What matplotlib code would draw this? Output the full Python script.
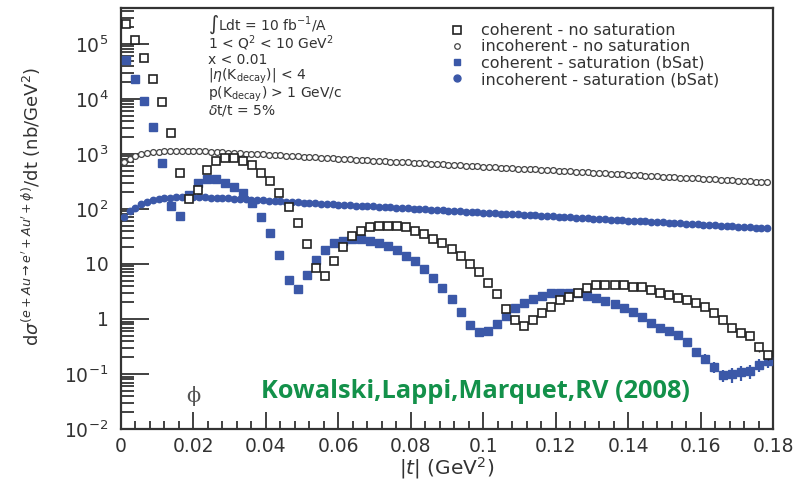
import numpy as np
import matplotlib
matplotlib.use("Agg")
import matplotlib.pyplot as plt
from matplotlib.lines import Line2D
from matplotlib.ticker import LogLocator, FixedLocator, MultipleLocator, NullFormatter

plt.rcParams['font.family'] = ['DejaVu Sans']
plt.rcParams['mathtext.fontset'] = 'dejavusans'

# |t| bins: coherent curves every 0.0025, incoherent every 0.0016 GeV^2
t_coh = 0.00125 + 0.0025 * np.arange(72)
t_inc = 0.0008 + 0.0016 * np.arange(112)

# coherent, no saturation (nb/GeV^2)
coh_nosat = [2.28e5, 1.18e5, 5.5e4, 2.31e4, 8.7e3, 2.44e3, 446, 150, 221, 512,
             736, 846, 846, 755, 624, 457, 319, 198, 110, 55,
             22.8, 8.4, 6.05, 11.5, 20.1, 32.3, 39.8, 46.5, 49.7, 49.7,
             49.7, 46.5, 40.3, 35.1, 28.5, 23.8, 18.7, 14.2, 9.9, 7.25,
             4.57, 2.81, 1.54, 0.97, 0.746, 0.96, 1.30, 1.68, 2.21, 2.54,
             3.0, 3.61, 4.15, 4.15, 4.15, 4.15, 3.77, 3.77, 3.37, 3.0,
             2.73, 2.44, 2.21, 1.93, 1.63, 1.30, 0.96, 0.68, 0.56, 0.49,
             0.31, 0.22]

# coherent, saturation (bSat)
coh_sat = [5.1e4, 2.31e4, 9.2e3, 3.06e3, 685, 111, 74.6, 180, 301, 355,
           347, 301, 254, 193, 127, 70.6, 36.1, 14.8, 5.1, 3.47,
           6.4, 11.8, 18.0, 23.8, 26.5, 28.5, 28.5, 26.5, 24.4, 21.5,
           18.0, 14.2, 11.3, 8.1, 5.6, 3.7, 2.28, 1.32, 0.77, 0.57,
           0.61, 0.81, 1.13, 1.57, 1.93, 2.31, 2.65, 2.93, 3.0, 3.0,
           2.93, 2.65, 2.38, 2.12, 1.87, 1.60, 1.36, 1.10, 0.86, 0.68,
           0.61, 0.51, 0.38, 0.25, 0.19, 0.136, 0.096, 0.099, 0.107, 0.115,
           0.146, 0.172]

# relative errors on the last bins
coh_nosat_err_tail = [0.06, 0.06, 0.08, 0.08, 0.10, 0.10, 0.12, 0.12, 0.14, 0.15, 0.18, 0.20]
coh_sat_err_tail = [0.10, 0.10, 0.12, 0.12, 0.14, 0.15, 0.16, 0.16, 0.18, 0.18,
                    0.20, 0.22, 0.25, 0.30, 0.30, 0.28, 0.26, 0.24]

# incoherent, no saturation
inc_nosat = [716, 818, 920, 980, 1026, 1065, 1096, 1125, 1139, 1148,
             1148, 1148, 1143, 1134, 1119, 1104, 1089, 1075, 1060, 1046,
             1032, 1019, 1005, 992, 979, 966, 953, 940, 928, 915,
             903, 891, 879, 868, 856, 845, 833, 822, 811, 801,
             790, 779, 769, 759, 749, 739, 729, 719, 710, 700,
             691, 682, 673, 664, 655, 646, 638, 629, 621, 612,
             604, 596, 588, 581, 573, 565, 558, 550, 543, 536,
             529, 522, 515, 508, 501, 494, 488, 481, 475, 469,
             462, 456, 450, 444, 438, 432, 427, 421, 415, 410,
             404, 399, 394, 388, 383, 378, 373, 368, 363, 359,
             354, 349, 345, 340, 336, 331, 327, 322, 318, 314,
             310, 306]

# incoherent, saturation (bSat)
inc_sat = [71.6, 90, 106, 122, 134, 143, 150, 156, 160, 164,
           165, 166, 166, 166, 163.8, 161.6, 159.4, 157.3, 155.2, 153.1,
           151.1, 149.1, 147.1, 145.1, 143.2, 141.3, 139.4, 137.6, 135.7, 133.9,
           132.1, 130.4, 128.6, 126.9, 125.2, 123.6, 121.9, 120.3, 118.7, 117.1,
           115.6, 114.0, 112.5, 111.0, 109.5, 108.1, 106.6, 105.2, 103.8, 102.4,
           101.1, 99.7, 98.4, 97.1, 95.8, 94.5, 93.3, 92.0, 90.8, 89.6,
           88.4, 87.2, 86.1, 84.9, 83.8, 82.7, 81.6, 80.5, 79.4, 78.4,
           77.3, 76.3, 75.3, 74.3, 73.3, 72.3, 71.4, 70.4, 69.5, 68.6,
           67.6, 66.7, 65.9, 65.0, 64.1, 63.3, 62.4, 61.6, 60.8, 60.0,
           59.2, 58.4, 57.6, 56.8, 56.1, 55.3, 54.6, 53.9, 53.1, 52.4,
           51.7, 51.0, 50.4, 49.7, 49.0, 48.4, 47.7, 47.1, 46.5, 45.9,
           45.3, 44.7]

labels = ["coherent - no saturation", "incoherent - no saturation",
          "coherent - saturation (bSat)", "incoherent - saturation (bSat)"]

cuts = [r"$\int$Ldt = 10 fb$^{-1}$/A",
        r"1 < Q$^2$ < 10 GeV$^2$",
        "x < 0.01",
        r"|$\eta$(K$_{\mathrm{decay}}$)| < 4",
        r"p(K$_{\mathrm{decay}}$) > 1 GeV/c",
        r"$\delta$t/t = 5%"]
cut_rows = [25, 43, 60, 76, 94, 111]   # row centres in pixels from top

xticks = [0, 0.02, 0.04, 0.06, 0.08, 0.1, 0.12, 0.14, 0.16, 0.18]
xtick_labels = ["0", "0.02", "0.04", "0.06", "0.08", "0.1", "0.12", "0.14", "0.16", "0.18"]
yticks = [1e-2, 1e-1, 1, 10, 1e2, 1e3, 1e4, 1e5]
ytick_labels = [r"10$^{-2}$", r"10$^{-1}$", "1", "10", r"10$^{2}$", r"10$^{3}$",
                r"10$^{4}$", r"10$^{5}$"]

blue = "#3b58a8"
ink = "#333333"

coh_nosat = np.array(coh_nosat)
coh_sat = np.array(coh_sat)
err1 = np.zeros(len(coh_nosat))
err1[-len(coh_nosat_err_tail):] = coh_nosat_err_tail
err2 = np.zeros(len(coh_sat))
err2[-len(coh_sat_err_tail):] = coh_sat_err_tail

fig = plt.figure(figsize=(8, 4.83), dpi=100)
ax = fig.add_axes([0.15125, 0.1118, 0.815, 0.8716])

ax.plot(t_inc, inc_nosat, 'o', ms=4.2, mfc='white', mec='#444444', mew=0.9, zorder=3)
ax.plot(t_inc, inc_sat, 'o', ms=4.6, color=blue, mec=blue, zorder=3)
ax.errorbar(t_coh, coh_sat, yerr=err2 * coh_sat, fmt='s', ms=5.2, color=blue,
            mec=blue, ecolor=blue, elinewidth=1.6, capsize=0, zorder=4)
ax.errorbar(t_coh, coh_nosat, yerr=err1 * coh_nosat, fmt='s', ms=6.4, mfc='white',
            mec='#222222', mew=1.2, ecolor='#222222', elinewidth=1.0, capsize=0, zorder=5)

ax.set_yscale('log')
ax.set_xlim(0, 0.18)
ax.set_ylim(1e-2, 4.5e5)

ax.xaxis.set_major_locator(FixedLocator(xticks))
ax.xaxis.set_minor_locator(MultipleLocator(0.004))
ax.set_xticklabels(xtick_labels)
ax.yaxis.set_major_locator(FixedLocator(yticks))
ax.set_yticklabels(ytick_labels)
ax.yaxis.set_minor_locator(LogLocator(base=10, subs=np.arange(2, 10), numticks=20))
ax.yaxis.set_minor_formatter(NullFormatter())

ax.tick_params(axis='both', which='both', direction='in', colors='#333333',
               labelcolor=ink, labelsize=13.5, width=1.3)
ax.tick_params(axis='y', which='major', length=20, pad=9)
ax.tick_params(axis='y', which='minor', length=9)
ax.tick_params(axis='x', which='major', length=12, pad=6)
ax.tick_params(axis='x', which='minor', length=6)
for s in ax.spines.values():
    s.set_linewidth(1.6)
    s.set_color('#333333')

ax.set_xlabel(r"|$t$| (GeV$^2$)", fontsize=14.5, color=ink, labelpad=-1)
ax.set_ylabel(r"d$\sigma^{(e+Au\rightarrow e'+Au'+\phi)}$/dt (nb/GeV$^2$)",
              fontsize=13, color=ink)
ax.yaxis.set_label_coords(-0.12, 0.53)

# run conditions block
for row, line in zip(cut_rows, cuts):
    fig.text(208 / 800, 1 - row / 483, line, fontsize=10, color=ink,
             va='center', ha='left')

handles = [
    Line2D([], [], ls='none', marker='s', ms=6, mfc='white', mec='#222222', mew=1.2),
    Line2D([], [], ls='none', marker='o', ms=4, mfc='white', mec='#444444', mew=0.9),
    Line2D([], [], ls='none', marker='s', ms=5, color=blue),
    Line2D([], [], ls='none', marker='o', ms=5, color=blue),
]
leg = ax.legend(handles, labels, loc='upper left', bbox_to_anchor=(0.48, 1.0),
                frameon=False, fontsize=11.5, handlelength=1.0, handletextpad=1.0,
                labelspacing=0.08, borderaxespad=0.55)
for txt in leg.get_texts():
    txt.set_color(ink)

ax.text(0.02, 0.039, "ϕ", fontsize=15, color='#555555', ha='center', va='center',
        family='DejaVu Serif')
fig.text(261 / 800, 1 - 391 / 483, "Kowalski,Lappi,Marquet,RV (2008)", fontsize=18.3,
         fontweight='bold', color='#13914a', family=['Open Sans', 'DejaVu Sans'],
         ha='left', va='center')

fig.savefig("out.png", dpi=100)
